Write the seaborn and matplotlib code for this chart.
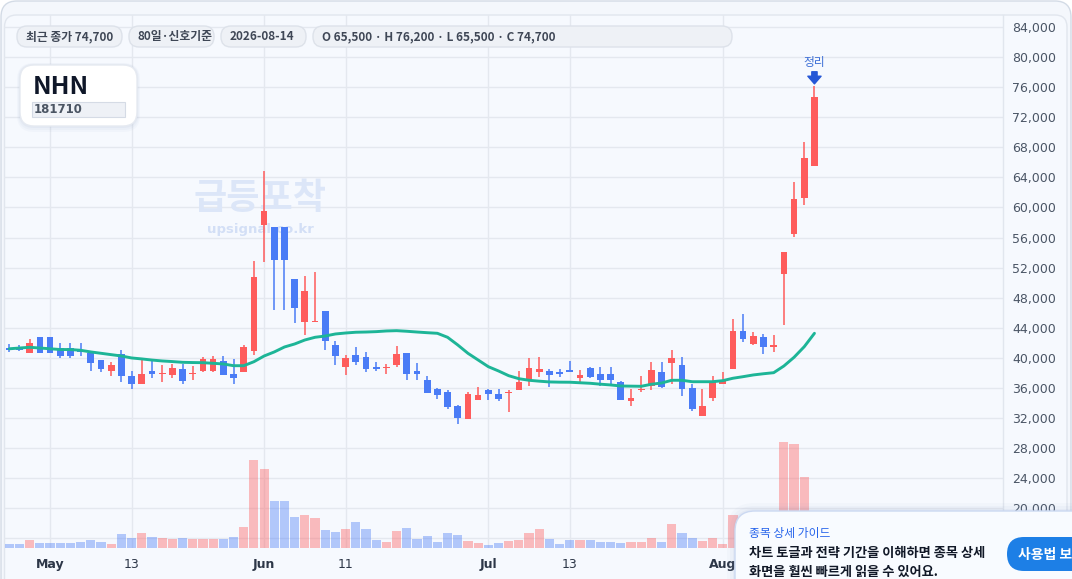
import numpy as np
import pandas as pd
import matplotlib.pyplot as plt
import seaborn as sns
from matplotlib.patches import FancyBboxPatch, Rectangle
from matplotlib.transforms import Affine2D

W, H = 1072, 579

# ----------------------------
# Data (80 sessions)
# ----------------------------
dates = pd.bdate_range("2026-04-27", "2026-08-14")

opens = [41300, 41400, 40650, 42750, 42750, 41300, 41300, 41000, 40600, 39700,
         38300, 40500, 37600, 36550, 38250, 37800, 37650, 38500, 37800, 38300,
         38250, 39550, 37850, 38050, 40950, 57700, 57400, 57400, 50500, 44800,
         44800, 46200, 41700, 38800, 40350, 40100, 38800, 38700, 39100, 40650,
         38250, 37050, 35850, 35450, 33600, 31800, 34450, 35700, 35200, 35300,
         35750, 36850, 38050, 38250, 38100, 38400, 37350, 38650, 37850, 37850,
         36800, 34300, 35750, 36300, 38100, 39250, 39050, 35950, 32300, 34700,
         36550, 38450, 43550, 41900, 42750, 41500, 51200, 56500, 61200, 65500]
highs = [41800, 41700, 42550, 42750, 42750, 42000, 42000, 42000, 40600, 39700,
         39450, 41050, 38250, 39650, 39650, 39050, 39150, 39150, 38900, 40150,
         40250, 40200, 39850, 41700, 52900, 64850, 57400, 57400, 50500, 50900,
         51400, 46200, 42250, 40350, 41500, 40750, 39450, 39150, 41550, 40650,
         39300, 37600, 36000, 35700, 33750, 35450, 36100, 35850, 35850, 35700,
         38250, 39950, 40100, 38500, 38500, 39600, 38400, 38800, 38800, 38800,
         36950, 35850, 37550, 39450, 39450, 41050, 40100, 36500, 35850, 37600,
         38050, 45150, 45850, 43450, 43150, 43050, 54100, 63400, 68700, 76200]
lows = [40800, 40900, 40650, 40650, 40650, 40000, 40000, 40300, 38300, 38150,
        37600, 36800, 35900, 36450, 37350, 36800, 37250, 36500, 37100, 38150,
        38150, 37750, 36450, 38050, 40400, 52800, 46400, 46400, 44650, 43050,
        44700, 41050, 39050, 37650, 39050, 38150, 38300, 37900, 38800, 37100,
        37100, 35350, 34550, 33250, 31250, 31800, 34450, 34450, 34300, 32850,
        35750, 36300, 37500, 36150, 37500, 38050, 36800, 37250, 36300, 36400,
        34450, 33650, 35500, 35750, 36000, 36450, 34950, 32950, 32300, 34200,
        36550, 38450, 42150, 41750, 40550, 40800, 44300, 56100, 60350, 65500]
closes = [41000, 41000, 41950, 40650, 40650, 40300, 40300, 40750, 39350, 38450,
          39050, 37600, 36550, 37850, 37900, 38000, 38650, 36950, 38000, 39850,
          39850, 37750, 37250, 41450, 50750, 59500, 53050, 53050, 46650, 48900,
          44900, 42300, 40300, 39950, 39500, 38550, 38450, 38800, 40500, 37900,
          37900, 35350, 35100, 33500, 32050, 35200, 35050, 35250, 34550, 35450,
          36800, 38650, 38500, 37650, 37900, 38050, 37700, 37500, 37100, 37100,
          34450, 34650, 35900, 38400, 36100, 39950, 35900, 33250, 33600, 36800,
          36900, 43550, 42550, 42900, 41500, 41650, 54100, 61100, 66600, 74700]
ma_line = [41200, 41300, 41400, 41300, 41200, 41100, 41100, 41000, 40780, 40600,
           40420, 40240, 39980, 39850, 39700, 39580, 39500, 39400, 39370, 39350,
           39270, 39180, 38950, 38950, 39480, 40240, 40780, 41440, 41840, 42370,
           42730, 42900, 43170, 43300, 43400, 43430, 43480, 43570, 43610, 43530,
           43430, 43340, 43260, 42730, 41710, 40600, 39710, 38820, 38250, 37620,
           37220, 37010, 36890, 36790, 36760, 36750, 36680, 36610, 36490, 36390,
           36250, 36230, 36210, 36480, 36650, 37010, 37010, 36820, 36820, 36820,
           36960, 37280, 37490, 37720, 37880, 38020, 38910, 40070, 41480, 43260]
volume = [40000, 40000, 80000, 50000, 50000, 50000, 50000, 60000, 80000, 60000,
          40000, 140000, 100000, 150000, 110000, 100000, 90000, 100000, 87000, 90000,
          90000, 90000, 110000, 210000, 880000, 790000, 470000, 470000, 310000, 330000,
          300000, 180000, 160000, 190000, 260000, 190000, 80000, 60000, 170000, 200000,
          90000, 120000, 60000, 150000, 130000, 70000, 50000, 30000, 50000, 70000,
          80000, 150000, 190000, 90000, 40000, 80000, 80000, 80000, 60000, 60000,
          50000, 60000, 60000, 100000, 60000, 240000, 150000, 100000, 70000, 100000,
          40000, 330000, 150000, 100000, 100000, 80000, 1060000, 1040000, 710000, 300000]

tick_dates = ["2026-05-01", "2026-05-13", "2026-06-01", "2026-06-11",
              "2026-07-01", "2026-07-13", "2026-08-03"]
tick_labels = ["May", "13", "Jun", "11", "Jul", "13", "Aug"]
price_ticks = list(range(16000, 84001, 4000))

df = pd.DataFrame({"date": dates, "open": opens, "high": highs, "low": lows,
                   "close": closes, "ma": ma_line, "volume": volume})
df["idx"] = np.arange(len(df))
df["up"] = df["close"] >= df["open"]

UP, DOWN = "#fe5c5c", "#4a7cf6"
cols = np.where(df["up"], UP, DOWN)

# ----------------------------
# Figure + background cards
# ----------------------------
sns.set_theme(style="white")
plt.rcParams['font.family'] = ['Noto Sans CJK KR', 'DejaVu Sans']

fig = plt.figure(figsize=(W / 100, H / 100), dpi=100, facecolor="white")
px = Affine2D().scale(1 / W, 1 / H) + fig.transFigure  # pixel coords, y up


def box(x0, y0, x1, y1, r, fc, ec="none", lw=1.0, z=1, alpha=1.0):
    p = FancyBboxPatch((x0, H - y1), x1 - x0, y1 - y0,
                       boxstyle=f"round,pad=0,rounding_size={r}",
                       transform=px, fc=fc, ec=ec, lw=lw, zorder=z, alpha=alpha)
    fig.add_artist(p)


def label(x, y, s, **kw):
    return fig.text(x, H - y, s, transform=px, **kw)


box(1, 1, 1071, 650, 16, "#f4f7fc", "#d3dbe6", z=-3)
box(4.5, 15, 1067, 650, 12, "#f6f9fe", "#e1e6ee", z=-2)

ax = fig.add_axes([4 / W, (H - 548) / H, (1003 - 4) / W, (548 - 15) / H])
ax.patch.set_alpha(0)

# ----------------------------
# Candles + moving average
# ----------------------------
body_lo = np.minimum(df["open"], df["close"])
body_h = np.maximum((df["close"] - df["open"]).abs(), 130)
ax.vlines(df["idx"], df["low"], df["high"], colors=cols, lw=1.1, zorder=3)
ax.bar(df["idx"], body_h, bottom=body_lo, width=0.66, color=cols, lw=0, zorder=4)
sns.lineplot(x=df["idx"], y=df["ma"], ax=ax, color="#1db597", lw=2.1, zorder=5)

# watermark
ax.text(260, H - 198, "급등포착", transform=px, fontsize=26, weight="bold",
        color="#dce6f8", ha="center", va="center", zorder=1)
ax.text(260, H - 229, "upsignal.co.kr", transform=px, fontsize=9.5, weight="bold",
        family="DejaVu Sans", color="#d3dff6", ha="center", va="center", zorder=1)

# signal marker on last candle
last = df.iloc[-1]
ax.annotate("정리", xy=(last["idx"], last["high"]), xytext=(0, 16.5),
            textcoords="offset points", ha="center", va="center",
            fontsize=8.5, color="#3d6fd6", zorder=6)
ax.annotate("", xy=(last["idx"], last["high"]), xytext=(0, 10),
            textcoords="offset points",
            arrowprops=dict(arrowstyle="simple,head_length=0.55,head_width=0.95,tail_width=0.38",
                            color="#2557d6", shrinkA=0, shrinkB=1.3, mutation_scale=10),
            zorder=6)

# ----------------------------
# Volume (overlay axis)
# ----------------------------
ax2 = ax.twinx()
ax2.bar(df["idx"], df["volume"], width=0.9, color=cols, alpha=0.4, lw=0)
ax2.set_ylim(0, max(volume) * 5.03)
ax2.set_axis_off()

# ----------------------------
# Axes styling
# ----------------------------
ax.set_xlim(-0.52, 97.5)
ax.set_ylim(14700, 85600)
ax.set_xlabel("")
ax.set_ylabel("")

ax.yaxis.tick_right()
ax.set_yticks(price_ticks, [f"{v:,}" for v in price_ticks])
ax.tick_params(axis="y", length=0, pad=6.5, labelsize=9, labelcolor="#4a5565")

tick_pos = [dates.get_loc(pd.Timestamp(d)) for d in tick_dates]
ax.set_xticks(tick_pos, tick_labels)
ax.tick_params(axis="x", length=0, pad=7, labelsize=9, labelcolor="#2d3748")
for t in ax.get_xticklabels() + ax.get_yticklabels():
    t.set_family("DejaVu Sans")
for t in ax.get_xticklabels():
    if not t.get_text().isdigit():
        t.set_weight("bold")

ax.grid(True, color="#e4e8ef", lw=1)
ax.set_axisbelow(True)
for s in ["left", "top", "bottom"]:
    ax.spines[s].set_visible(False)
ax.spines["right"].set_color("#e1e6ee")
ax.spines["right"].set_linewidth(1)

# ----------------------------
# Header pills
# ----------------------------
pills = [
    (17, 122, f"최근 종가 {closes[-1]:,}"),
    (129, 214, "80일·신호기준"),
    (221, 306, dates[-1].strftime("%Y-%m-%d")),
    (313, 732, f"O {opens[-1]:,} · H {highs[-1]:,} · L {lows[-1]:,} · C {closes[-1]:,}"),
]
for x0, x1, s in pills:
    box(x0, 26, x1, 47, 10, "#eef1f6", "#dde2ea", z=2)
    label(x0 + 9, 36.8, s, fontsize=8.5, weight="bold", color="#3f4756",
          va="center", ha="left", zorder=3)

# ticker card
for k, a in [(6, 0.05), (4, 0.06), (2, 0.08)]:
    box(20 - k / 2, 65 - k / 3, 137 + k / 2, 126 + k, 14 + k / 2, "#8fa2c4", z=2, alpha=a)
box(20, 65, 137, 126, 14, "white", "#e6eaf1", z=2)
label(33, 87, "NHN", fontsize=18, weight="heavy", color="#0f1729",
      va="center", ha="left", zorder=3)
fig.add_artist(Rectangle((32, H - 117), 93, 15, transform=px, fc="#eef1f6",
                         ec="#d5dbe5", lw=0.8, zorder=3))
label(34, 109.8, "181710", fontsize=8.5, weight="bold", color="#4b5563",
      family="DejaVu Sans", va="center", ha="left", zorder=4)

# ----------------------------
# Guide popup (bottom right)
# ----------------------------
for k, a in [(8, 0.04), (5, 0.05), (2, 0.07)]:
    box(735 - k, 511 - k, 1100, 660, 20 + k, "#7f97c4", z=6, alpha=a)
box(735, 511, 1100, 660, 20, "#f8fbff", "#cbd9f2", z=6)
label(749, 534, "종목 상세 가이드", fontsize=8.5, color="#2563eb",
      va="center", ha="left", zorder=7)
label(749, 553, "차트 토글과 전략 기간을 이해하면 종목 상세", fontsize=9.5,
      weight="bold", color="#111827", va="center", ha="left", zorder=7)
label(749, 572, "화면을 훨씬 빠르게 읽을 수 있어요.", fontsize=9.5,
      weight="bold", color="#111827", va="center", ha="left", zorder=7)
box(1007, 537, 1120, 571, 17, "#1d7fe6", z=7)
label(1018, 554.5, "사용법 보기", fontsize=10, weight="bold", color="white",
      va="center", ha="left", zorder=8)

fig.savefig("out.png", dpi=100, facecolor=fig.get_facecolor())
